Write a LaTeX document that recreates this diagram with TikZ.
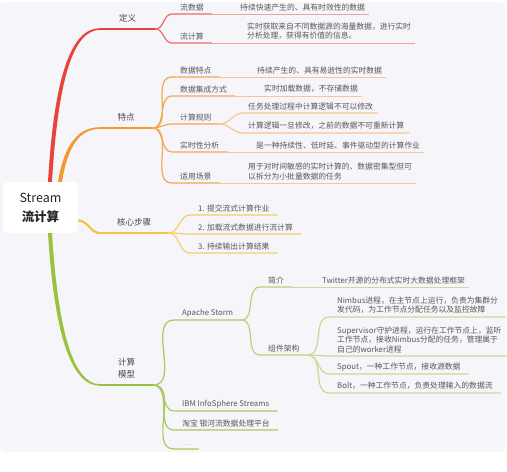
\documentclass[tikz,border=0pt]{standalone}
\usepackage{fontspec}
\setmainfont{Noto Sans CJK SC}
\usetikzlibrary{calc,positioning}

\definecolor{bgpanel}{HTML}{F5F5FA}
\definecolor{txtmain}{HTML}{474747}
\definecolor{txtsub}{HTML}{585858}
\definecolor{cred}{HTML}{E8443B}
\definecolor{credsub}{HTML}{EC6A62}
\definecolor{credleaf}{HTML}{F2A39D}
\definecolor{corg}{HTML}{F4982F}
\definecolor{corgsub}{HTML}{F5A74E}
\definecolor{corgleaf}{HTML}{F8C690}
\definecolor{cyel}{HTML}{F6C444}
\definecolor{cyelsub}{HTML}{F8D06A}
\definecolor{cgrn}{HTML}{9BC23E}
\definecolor{cgrnsub}{HTML}{A9C95B}
\definecolor{cgrndeep}{HTML}{B8D376}
\definecolor{cgrnleaf}{HTML}{C8DB92}

\tikzset{
  rootbox/.style={fill=white, rounded corners=5pt, minimum width=75pt, minimum height=51pt,
    align=center, text=black!85, font=\fontsize{12.5}{19}\selectfont},
  mainlbl/.style={anchor=south west, inner xsep=0pt, inner ysep=7pt, align=center,
    text=txtmain, font=\fontsize{8.5}{11.5}\selectfont},
  sublbl/.style={anchor=south west, inner xsep=8pt, inner ysep=3pt, align=left,
    text=txtsub, font=\fontsize{7.8}{9.5}\selectfont},
  leaflbl/.style={anchor=south west, inner xsep=4pt, inner ysep=3pt, align=left,
    text=txtsub, font=\fontsize{7.8}{9.5}\selectfont},
  mainline/.style={line width=1.6pt, line cap=round},
  subline/.style={line width=1.2pt},
  leafline/.style={line width=0.9pt}
}

\begin{document}
\begin{tikzpicture}[x=1pt,y=-1pt]
\useasboundingbox (0,0) rectangle (507,472);
\fill[white] (0,0) rectangle (507,472);
\fill[bgpanel, rounded corners=4pt] (0,2) rectangle (505,452);

% root and main topics
\node[rootbox] (root) at (40.5,207.5) {Stream\\\textbf{流计算}};
\node[mainlbl, minimum width=55pt] (dingyi) at (100,29) {定义};
\node[mainlbl, minimum width=52pt] (tedian) at (100,128) {特点};
\node[mainlbl, minimum width=68pt] (buzhou) at (100,233) {核心步骤};
\node[mainlbl, minimum width=53pt] (moxing) at (100,385) {计算\\模型};

% main branches
\fill[cred] ($(root.north)+(7.5,0)$) .. controls (54,80) and (70,28) .. ($(dingyi.south west)+(0,-0.8)$)
  -- ($(dingyi.south west)+(0,0.8)$) .. controls (73,30) and (58,80) .. ($(root.north)+(11.5,0)$) -- cycle;
\fill[corg] ($(root.north)+(17.5,0)$) .. controls (64,145) and (78,127) .. ($(tedian.south west)+(0,-0.8)$)
  -- ($(tedian.south west)+(0,0.8)$) .. controls (80,129) and (68,145) .. ($(root.north)+(21.5,0)$) -- cycle;
\fill[cgrn] ($(root.south)+(7.5,0)$) .. controls (54,330) and (70,386) .. ($(moxing.south west)+(0,0.8)$)
  -- ($(moxing.south west)+(0,-0.8)$) .. controls (73,384) and (58,330) .. ($(root.south)+(11.5,0)$) -- cycle;
\draw[cyel, line width=2.2pt] ([yshift=-13pt]root.east) to[out=0,in=180] (buzhou.south west);

\draw[cred, mainline] (dingyi.south west) -- (dingyi.south east);
\draw[corg, mainline] (tedian.south west) -- (tedian.south east);
\draw[cyel, mainline] (buzhou.south west) -- (buzhou.south east);
\draw[cgrn, mainline] (moxing.south west) -- (moxing.south east);

% second level
\node[sublbl] (liushuju) at (172,14) {流数据};
\node[sublbl] (liujisuan) at (172,43) {流计算};
\node[sublbl] (shujutedian) at (172,77) {数据特点};
\node[sublbl] (jicheng) at (172,96) {数据集成方式};
\node[sublbl] (guize) at (172,124) {计算规则};
\node[sublbl] (shishixing) at (172,152) {实时性分析};
\node[sublbl] (changjing) at (172,183) {适用场景};
\foreach \n/\y/\t in {bu1/215/{1. 提交流式计算作业}, bu2/234/{2. 加载流式数据进行流计算}, bu3/253/{3. 持续输出计算结果}}
  \node[sublbl] (\n) at (190,\y) {\t};
\node[sublbl] (storm) at (174,320) {Apache Storm};
\node[sublbl] (ibm) at (174,411) {IBM InfoSphere Streams};
\node[sublbl] (taobao) at (174,430) {淘宝 银河流数据处理平台};
\node[sublbl, text=black!35, font=\fontsize{5}{6}\selectfont] (etc) at (174,449) {......};

% third level
\node[sublbl, inner xsep=5pt] (guizeA) at (243,113) {任务处理过程中计算逻辑不可以修改};
\node[sublbl, inner xsep=5pt] (guizeB) at (243,133) {计算逻辑一旦修改，之前的数据不可重新计算};
\node[sublbl] (jianjie) at (260,287) {简介};
\node[sublbl] (zujian) at (260,355) {组件架构};
\node[sublbl] (nimbus) at (329,317) {Nimbus进程，在主节点上运行，负责为集群分\\发代码，为工作节点分配任务以及监控故障};
\node[sublbl] (supervisor) at (329,356) {Supervisor守护进程，运行在工作节点上，监听\\工作节点，接收Nimbus分配的任务，管理属于\\自己的worker进程};
\node[sublbl] (spout) at (329,374) {Spout，一种工作节点，接收源数据};
\node[sublbl] (bolt) at (329,393) {Bolt，一种工作节点，负责处理输入的数据流};

% leaves
\node[leaflbl] (liushujuL) at (236,14) {持续快速产生的、具有时效性的数据};
\node[leaflbl] (liujisuanL) at (243,43) {实时获取来自不同数据源的海量数据，进行实时\\分析处理，获得有价值的信息。};
\node[leaflbl] (shujutedianL) at (253,77) {持续产生的、具有易逝性的实时数据};
\node[leaflbl] (jichengL) at (260,96) {实时加载数据，不存储数据};
\node[leaflbl] (shishixingL) at (252,152) {是一种持续性、低时延、事件驱动型的计算作业};
\node[leaflbl] (changjingL) at (244,183) {用于对时间敏感的实时计算的、数据密集型但可\\以拆分为小批量数据的任务};
\node[leaflbl] (jianjieL) at (318,287) {Twitter开源的分布式实时大数据处理框架};

% connectors
\foreach \p/\c/\s in {dingyi/liushuju/credsub, dingyi/liujisuan/credsub,
    tedian/shujutedian/corgsub, tedian/jicheng/corgsub, tedian/guize/corgsub,
    tedian/shishixing/corgsub, tedian/changjing/corgsub,
    guize/guizeA/corgleaf, guize/guizeB/corgleaf,
    buzhou/bu1/cyelsub, buzhou/bu2/cyelsub, buzhou/bu3/cyelsub,
    moxing/storm/cgrnsub, moxing/ibm/cgrnsub, moxing/taobao/cgrnsub, moxing/etc/cgrnsub,
    storm/jianjie/cgrndeep, storm/zujian/cgrndeep,
    zujian/nimbus/cgrnleaf, zujian/supervisor/cgrnleaf, zujian/spout/cgrnleaf, zujian/bolt/cgrnleaf}
  \draw[\s, subline] (\p.south east) to[out=0,in=180] (\c.south west) -- (\c.south east);

\foreach \p/\c/\s in {liushuju/liushujuL/credleaf, liujisuan/liujisuanL/credleaf,
    shujutedian/shujutedianL/corgleaf, jicheng/jichengL/corgleaf,
    shishixing/shishixingL/corgleaf, changjing/changjingL/corgleaf,
    jianjie/jianjieL/cgrnleaf}
  \draw[\s, leafline] (\p.south east) -- (\p.south east -| \c.east);
\end{tikzpicture}
\end{document}
